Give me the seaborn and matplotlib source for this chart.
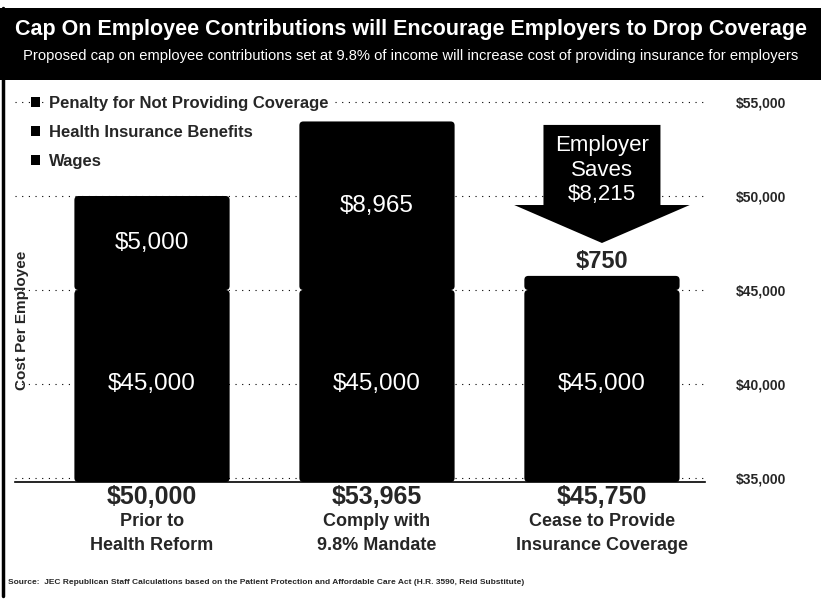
import matplotlib
matplotlib.use("Agg")
import matplotlib.pyplot as plt
from matplotlib import font_manager
from matplotlib.patches import FancyBboxPatch, Rectangle, Polygon, Patch
from matplotlib.lines import Line2D
import pandas as pd
import seaborn as sns

# ---- data -------------------------------------------------------------
categories = ["Prior to\nHealth Reform",
              "Comply with\n9.8% Mandate",
              "Cease to Provide\nInsurance Coverage"]
wages = [45000, 45000, 45000]
health_benefits = [5000, 8965, 0]
penalty = [0, 0, 750]
segment_names = ["Wages", "Health Insurance Benefits",
                 "Penalty for Not Providing Coverage"]
y_ticks = [35000, 40000, 45000, 50000, 55000]

title = "Cap On Employee Contributions will Encourage Employers to Drop Coverage"
subtitle = ("Proposed cap on employee contributions set at 9.8% of income will "
            "increase cost of providing insurance for employers")
source = ("Source:  JEC Republican Staff Calculations based on the Patient Protection "
          "and Affordable Care Act (H.R. 3590, Reid Substitute)")
y_label = "Cost Per Employee"

# ---- fonts ------------------------------------------------------------
sns.set_theme(style="white")
installed = {f.name for f in font_manager.fontManager.ttflist}
BASE = "Liberation Sans" if "Liberation Sans" in installed else "DejaVu Sans"
NARROW = "Liberation Sans Narrow" if "Liberation Sans Narrow" in installed else BASE
plt.rcParams["font.family"] = [BASE, "DejaVu Sans"]

W, H = 821, 600


def fx(px):
    return px / W


def fy(px):
    return 1 - px / H


fig = plt.figure(figsize=(W / 100, H / 100), dpi=100)
fig.patch.set_facecolor("white")
ax = fig.add_axes([fx(15), fy(482), fx(705) - fx(15), fy(85) - fy(482)])

# ---- stacked bars ------------------------------------------------------
segments = [wages, health_benefits, penalty]
df = pd.DataFrame({"category": categories})
bottom = [0] * len(categories)
x0, x1 = -0.609, 2.458
y0, y1 = 34787, 55904
ax.set_xlim(x0, x1)
ax.set_ylim(y0, y1)

# pixel scale of the data axes, used for corner rounding
x_ppu = (fx(705) - fx(15)) * W / (x1 - x0)
y_ppu = (fy(85) - fy(482)) * H / (y1 - y0)
radius = 4 / x_ppu
aspect = x_ppu / y_ppu

segment_spans = []
for seg in segments:
    tops = [b + v for b, v in zip(bottom, seg)]
    df["top"] = tops
    n_before = len(ax.patches)
    sns.barplot(data=df, x="category", y="top", order=categories, color="black",
                saturation=1, width=0.69, errorbar=None, ax=ax, zorder=3)
    new = ax.patches[n_before:]
    for i, rect in enumerate(new):
        lo = max(bottom[i], y0)
        hi = tops[i]
        rect.remove()
        if seg[i] > 0:
            box = FancyBboxPatch((rect.get_x(), lo), rect.get_width(), hi - lo,
                                 boxstyle=f"round,pad=0,rounding_size={radius}",
                                 mutation_aspect=aspect, facecolor="black",
                                 edgecolor="none", zorder=3)
            ax.add_patch(box)
    segment_spans.append(list(zip(bottom, tops)))
    bottom = tops

ax.set_xlim(x0, x1)
ax.set_ylim(y0, y1)

# ---- value labels -----------------------------------------------------
for i in range(len(categories)):
    lo, hi = segment_spans[0][i]
    ax.text(i, (y_ticks[0] + hi) / 2, f"${wages[i]:,}", color="white",
            ha="center", va="center", fontsize=17.5, zorder=5)
    if health_benefits[i] > 0:
        lo, hi = segment_spans[1][i]
        ax.text(i, (lo + hi) / 2, f"${health_benefits[i]:,}", color="white",
                ha="center", va="center", fontsize=17.5, zorder=5)
    if penalty[i] > 0:
        lo, hi = segment_spans[2][i]
        ax.annotate(f"${penalty[i]:,}", xy=(i, hi), xytext=(0, 2),
                    textcoords="offset points", ha="center", va="bottom",
                    fontsize=17, fontweight="bold", family=NARROW, zorder=5)

totals = [sum(v) for v in zip(*segments)]
for i, tot in enumerate(totals):
    ax.annotate(f"${tot:,}", xy=(i, 0), xycoords=("data", "axes fraction"),
                xytext=(0, -11), textcoords="offset points", ha="center",
                va="center", fontsize=18, fontweight="bold", family=NARROW)

# ---- savings arrow ------------------------------------------------------
savings = totals[1] - totals[2]
ax_c, body, head = 2, 0.26, 0.39
a_top, a_neck, a_tip = 53780, 49520, 47500
arrow = Polygon([(ax_c - body, a_top), (ax_c + body, a_top), (ax_c + body, a_neck),
                 (ax_c + head, a_neck), (ax_c, a_tip), (ax_c - head, a_neck),
                 (ax_c - body, a_neck)], closed=True, facecolor="black",
                edgecolor="none", zorder=4)
ax.add_patch(arrow)
ax.text(ax_c, 51380, f"Employer\nSaves\n${savings:,}", color="white", ha="center",
        va="center", fontsize=16, linespacing=1.2, zorder=5)

# ---- axes styling -------------------------------------------------------
ax.grid(axis="y", color="black", linestyle=(0, (1, 5)), linewidth=0.8)
ax.grid(axis="x", visible=False)
ax.set_axisbelow(True)
for side in ["top", "left", "right"]:
    ax.spines[side].set_visible(False)
ax.spines["bottom"].set_color("black")
ax.spines["bottom"].set_linewidth(1.2)
ax.yaxis.tick_right()
ax.set_yticks(y_ticks)
ax.set_yticklabels([f"${v:,}" for v in y_ticks], fontweight="bold", fontsize=10)
ax.tick_params(axis="y", length=0, pad=22)
ax.set_xticks(range(len(categories)))
ax.set_xticklabels(categories, fontweight="bold", fontsize=13, family=NARROW,
                   linespacing=1.6)
ax.tick_params(axis="x", length=0, pad=22)
ax.set_xlabel("")
ax.set_ylabel("")

# ---- legend -------------------------------------------------------------
handles = [Patch(facecolor="black", edgecolor="none") for _ in segment_names]
leg = fig.legend(handles[::-1], segment_names[::-1], loc="upper left",
                 bbox_to_anchor=(fx(29), fy(94)), frameon=False, handlelength=0.55,
                 handleheight=0.55, handletextpad=0.55, labelspacing=0.85,
                 borderpad=0.1, borderaxespad=0,
                 prop={"weight": "bold", "size": 12, "family": BASE})
for t in leg.get_texts():
    t.set_bbox(dict(facecolor="white", edgecolor="none", pad=2))

# ---- header band, frame, labels ----------------------------------------
fig.add_artist(Rectangle((0, fy(80)), 1, fy(8) - fy(80), transform=fig.transFigure,
                         facecolor="black", edgecolor="none", zorder=0))
fig.text(0.5, fy(29), title, color="white", ha="center", va="center",
         fontsize=15.5, fontweight="bold")
fig.text(0.5, fy(56), subtitle, color="white", ha="center", va="center",
         fontsize=10.6, family=NARROW)
fig.add_artist(Line2D([fx(3), fx(3)], [fy(8), fy(596)], color="black", lw=2.5))
fig.text(fx(22), fy(320), y_label, rotation=90, ha="center", va="center",
         fontsize=11, fontweight="bold")
fig.text(fx(8), fy(583), source, ha="left", va="center", fontsize=6,
         fontweight="bold", family=NARROW)

fig.savefig("out.png", dpi=100)
